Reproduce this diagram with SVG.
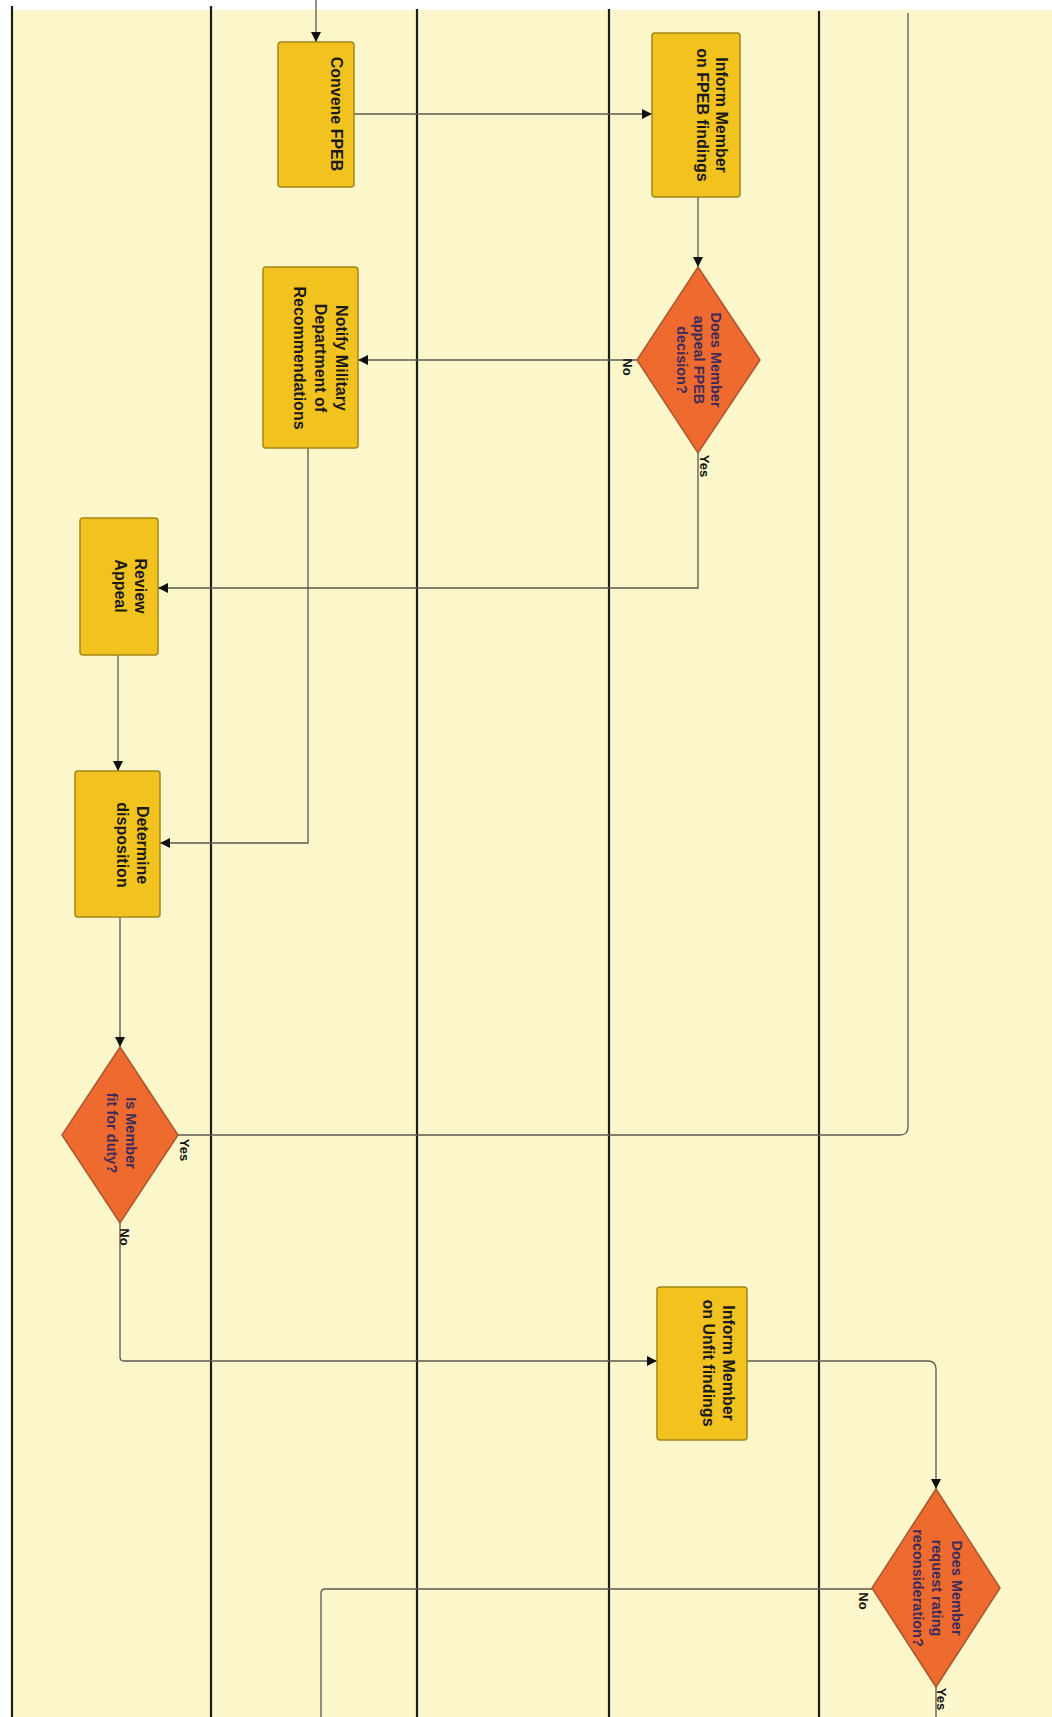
<svg xmlns="http://www.w3.org/2000/svg" width="1052" height="1717" viewBox="0 0 1052 1717">
  <defs>
    <marker id="arrow" viewBox="0 0 10 10" refX="10" refY="5" markerWidth="10" markerHeight="10" markerUnits="userSpaceOnUse" orient="auto">
      <path d="M0,0 L10,5 L0,10 z" fill="#111"/>
    </marker>
    <style>
      .lane { stroke: #1c1c1c; stroke-width: 2.2; }
      .task { fill: #F2C31E; stroke: #A4871A; stroke-width: 1.5; }
      .decision { fill: #EE6A2E; stroke: #A8562F; stroke-width: 1.5; }
      .conn { fill: none; stroke: #5a5a52; stroke-width: 1.3; }
      .ttext { font-family: "Liberation Sans", Arial, sans-serif; font-weight: bold; font-size: 16px; fill: #1a1a1a; text-anchor: middle; }
      .dtext { font-family: "Liberation Sans", Arial, sans-serif; font-weight: bold; font-size: 14.5px; fill: #3c2c5c; text-anchor: middle; }
      .label { font-family: "Liberation Sans", Arial, sans-serif; font-weight: bold; font-size: 13px; fill: #111; text-anchor: middle; }
    </style>
  </defs>

  <!-- page -->
  <rect x="0" y="0" width="1052" height="1717" fill="#ffffff"/>
  <rect x="12" y="10" width="1040" height="1707" fill="#FBF7CB"/>

  <!-- swimlane dividers -->
  <g id="lanes">
    <line class="lane" x1="12" y1="6" x2="12" y2="1717"/>
    <line class="lane" x1="211" y1="6" x2="211" y2="1717"/>
    <line class="lane" x1="417" y1="9" x2="417" y2="1717"/>
    <line class="lane" x1="609" y1="9" x2="609" y2="1717"/>
    <line class="lane" x1="819" y1="11" x2="819" y2="1717"/>
  </g>

  <!-- connectors -->
  <g id="connectors">
    <path class="conn" d="M316,0 V42" marker-end="url(#arrow)"/>
    <path class="conn" d="M354,114 H652" marker-end="url(#arrow)"/>
    <path class="conn" d="M698,197 V267" marker-end="url(#arrow)"/>
    <path class="conn" d="M637,360 H358" marker-end="url(#arrow)"/>
    <path class="conn" d="M698,453 V588 H158" marker-end="url(#arrow)"/>
    <path class="conn" d="M308,448 V843 H160" marker-end="url(#arrow)"/>
    <path class="conn" d="M118,655 V771" marker-end="url(#arrow)"/>
    <path class="conn" d="M120,917 V1047" marker-end="url(#arrow)"/>
    <path class="conn" d="M178,1135 H900 Q908,1135 908,1127 V13"/>
    <path class="conn" d="M120,1223 V1357 Q120,1361 124,1361 H657" marker-end="url(#arrow)"/>
    <path class="conn" d="M747,1361 H928 Q936,1361 936,1369 V1489" marker-end="url(#arrow)"/>
    <path class="conn" d="M872,1589 H325 Q321,1589 321,1593 V1717"/>
    <path class="conn" d="M936,1687 V1717"/>
  </g>

  <!-- tasks -->
  <g id="convene-fpeb">
    <rect class="task" x="278" y="42" width="76" height="145" rx="3"/>
    <text class="ttext" x="331" y="114" transform="rotate(90 331 114)">Convene FPEB</text>
  </g>

  <g id="inform-fpeb-findings">
    <rect class="task" x="652" y="33" width="88" height="164" rx="3"/>
    <text class="ttext" x="716" y="115" transform="rotate(90 716 115)">Inform Member</text>
    <text class="ttext" x="697" y="115" transform="rotate(90 697 115)">on FPEB findings</text>
  </g>

  <g id="notify-military">
    <rect class="task" x="263" y="267" width="95" height="181" rx="3"/>
    <text class="ttext" x="336" y="358" transform="rotate(90 336 358)">Notify Military</text>
    <text class="ttext" x="315" y="358" transform="rotate(90 315 358)">Department of</text>
    <text class="ttext" x="294" y="358" transform="rotate(90 294 358)">Recommendations</text>
  </g>

  <g id="review-appeal">
    <rect class="task" x="80" y="518" width="78" height="137" rx="3"/>
    <text class="ttext" x="135" y="586" transform="rotate(90 135 586)">Review</text>
    <text class="ttext" x="115" y="586" transform="rotate(90 115 586)">Appeal</text>
  </g>

  <g id="determine-disposition">
    <rect class="task" x="75" y="771" width="85" height="146" rx="3"/>
    <text class="ttext" x="137" y="845" transform="rotate(90 137 845)">Determine</text>
    <text class="ttext" x="117" y="845" transform="rotate(90 117 845)">disposition</text>
  </g>

  <g id="inform-unfit-findings">
    <rect class="task" x="657" y="1287" width="90" height="153" rx="3"/>
    <text class="ttext" x="723" y="1363" transform="rotate(90 723 1363)">Inform Member</text>
    <text class="ttext" x="703" y="1363" transform="rotate(90 703 1363)">on Unfit findings</text>
  </g>

  <!-- decisions -->
  <g id="appeal-decision">
    <polygon class="decision" points="698,267 760,360 698,453 637,360"/>
    <text class="dtext" x="711" y="360" transform="rotate(90 711 360)">Does Member</text>
    <text class="dtext" x="694" y="360" transform="rotate(90 694 360)">appeal FPEB</text>
    <text class="dtext" x="677" y="360" transform="rotate(90 677 360)">decision?</text>
    <text class="label" x="623" y="367" transform="rotate(90 623 367)">No</text>
    <text class="label" x="700" y="466" transform="rotate(90 700 466)">Yes</text>
  </g>

  <g id="fit-for-duty">
    <polygon class="decision" points="120,1047 178,1135 120,1223 62,1135"/>
    <text class="dtext" x="126" y="1133" transform="rotate(90 126 1133)">Is Member</text>
    <text class="dtext" x="107" y="1133" transform="rotate(90 107 1133)">fit for duty?</text>
    <text class="label" x="180" y="1150" transform="rotate(90 180 1150)">Yes</text>
    <text class="label" x="120" y="1237" transform="rotate(90 120 1237)">No</text>
  </g>

  <g id="rating-reconsideration">
    <polygon class="decision" points="936,1489 1000,1588 936,1687 872,1588"/>
    <text class="dtext" x="952" y="1588" transform="rotate(90 952 1588)">Does Member</text>
    <text class="dtext" x="932" y="1588" transform="rotate(90 932 1588)">request rating</text>
    <text class="dtext" x="913" y="1588" transform="rotate(90 913 1588)">reconsideration?</text>
    <text class="label" x="859" y="1601" transform="rotate(90 859 1601)">No</text>
    <text class="label" x="937" y="1699" transform="rotate(90 937 1699)">Yes</text>
  </g>
</svg>
